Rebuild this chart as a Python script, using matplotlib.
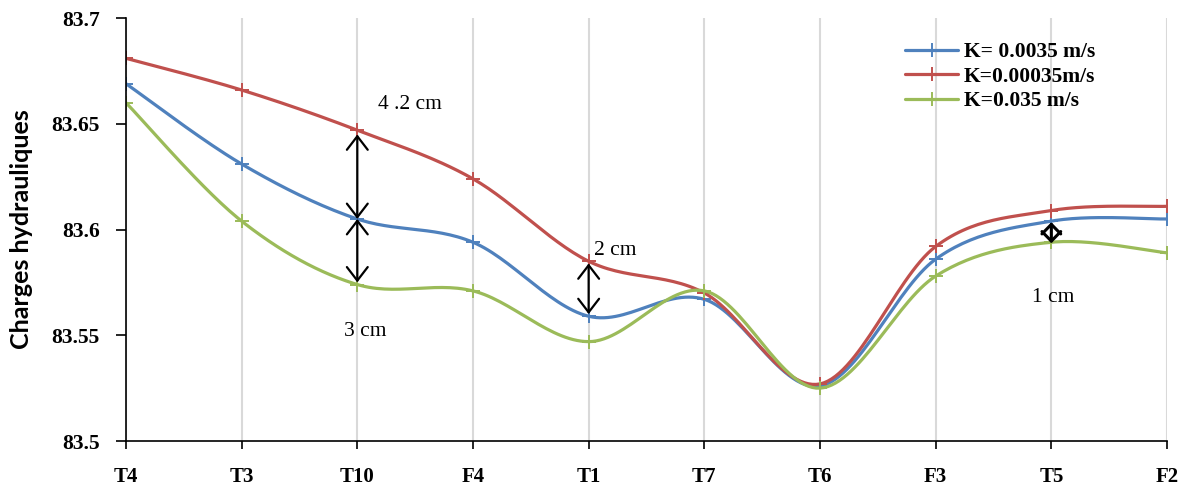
import numpy as np
import matplotlib
import matplotlib.pyplot as plt
from matplotlib.ticker import FuncFormatter

matplotlib.use('agg')

# data
stations = ['T4', 'T3', 'T10', 'F4', 'T1', 'T7', 'T6', 'F3', 'T5', 'F2']
k_0035 = [83.669, 83.631, 83.605, 83.594, 83.559, 83.567, 83.526, 83.586, 83.604, 83.605]
k_00035 = [83.681, 83.666, 83.647, 83.624, 83.585, 83.570, 83.527, 83.592, 83.609, 83.611]
k_035 = [83.660, 83.604, 83.574, 83.571, 83.547, 83.571, 83.525, 83.578, 83.594, 83.589]
labels = ['K= 0.0035 m/s', 'K=0.00035m/s', 'K=0.035 m/s']
colors = ['#4F81BD', '#C0504D', '#9BBB59']

SERIF = 'Liberation Serif'


def smooth(x, y, n=30):
    # excel-like smoothed line: cubic bezier through every point
    x = np.asarray(x, float)
    y = np.asarray(y, float)
    px = np.concatenate([[x[0]], x, [x[-1]]])
    py = np.concatenate([[y[0]], y, [y[-1]]])
    xs, ys, idx = [], [], []
    t = np.linspace(0, 1, n, endpoint=False)
    for i in range(len(x) - 1):
        p0 = np.array([px[i + 1], py[i + 1]])
        p3 = np.array([px[i + 2], py[i + 2]])
        c1 = p0 + (np.array([px[i + 2], py[i + 2]]) - np.array([px[i], py[i]])) / 6
        c2 = p3 - (np.array([px[i + 3], py[i + 3]]) - np.array([px[i + 1], py[i + 1]])) / 6
        idx.append(len(xs))
        b = ((1 - t) ** 3)[:, None] * p0 + (3 * (1 - t) ** 2 * t)[:, None] * c1 \
            + (3 * (1 - t) * t ** 2)[:, None] * c2 + (t ** 3)[:, None] * p3
        xs.extend(b[:, 0])
        ys.extend(b[:, 1])
    idx.append(len(xs))
    xs.append(x[-1])
    ys.append(y[-1])
    return np.array(xs), np.array(ys), idx


fig = plt.figure(figsize=(11.86, 4.9), dpi=100)
ax = fig.add_axes([0.1062, 0.1, 0.8778, 0.863])

xpos = np.arange(len(stations))
for vals, lab, col in zip([k_0035, k_00035, k_035], labels, colors):
    sx, sy, idx = smooth(xpos, vals)
    ax.plot(sx, sy, color=col, lw=2.3, marker='+', markevery=idx,
            markersize=10, mew=1.4, label=lab, solid_capstyle='round')

ax.set_xlim(0, len(stations) - 1)
ax.set_ylim(83.5, 83.7)
ax.set_yticks([83.5, 83.55, 83.6, 83.65, 83.7])
ax.yaxis.set_major_formatter(FuncFormatter(lambda v, p: ('%.2f' % v).rstrip('0').rstrip('.')))
ax.set_xticks(xpos)
ax.set_xticklabels(stations)
for lbl in ax.get_xticklabels():
    lbl.set_fontfamily(SERIF)
    lbl.set_fontweight('bold')
    lbl.set_fontsize(15)
for lbl in ax.get_yticklabels():
    lbl.set_fontfamily(SERIF)
    lbl.set_fontweight('bold')
    lbl.set_fontsize(15.5)
ax.tick_params(axis='x', direction='out', length=6, width=1.2, pad=13)
ax.tick_params(axis='y', direction='out', length=7, width=1.2, pad=12)
ax.grid(True, axis='x', color='#D9D9D9', lw=1.5)
ax.set_axisbelow(True)
for s in ['top', 'right']:
    ax.spines[s].set_visible(False)
for s in ['left', 'bottom']:
    ax.spines[s].set_linewidth(1.2)
ax.set_ylabel('Charges hydrauliques', fontfamily='Lato', fontweight='bold', fontsize=18)
ax.yaxis.set_label_coords(-0.0893, 0.5)

# difference arrows
arr = dict(arrowstyle='<->,head_length=0.65,head_width=0.5', color='black', lw=1.6,
           shrinkA=0, shrinkB=0, mutation_scale=15)
ax.annotate('', xy=(2, 83.645), xytext=(2, 83.605), arrowprops=arr)
ax.annotate('', xy=(2, 83.605), xytext=(2, 83.575), arrowprops=arr)
ax.annotate('', xy=(4, 83.584), xytext=(4, 83.560), arrowprops=arr)
ax.annotate('', xy=(8, 83.6035), xytext=(8, 83.5935),
            arrowprops=dict(arr, arrowstyle='<->,head_length=0.46,head_width=0.45', lw=2.2, mutation_scale=15))

tf = dict(fontfamily=SERIF, fontsize=15.5)
ax.text(2.18, 83.659, '4 .2 cm', ha='left', va='center', **tf)
ax.text(2.07, 83.552, '3 cm', ha='center', va='center', **tf)
ax.text(4.05, 83.590, '2 cm', ha='left', va='center', **tf)
ax.text(8.02, 83.568, '1 cm', ha='center', va='center', **tf)

ax.legend(loc='upper left', bbox_to_anchor=(0.748, 0.943), frameon=False,
          prop={'family': SERIF, 'weight': 'bold', 'size': 15.5},
          handlelength=2.5, handletextpad=0.25, labelspacing=0.2,
          borderpad=0, borderaxespad=0, numpoints=1)

plt.savefig('out.png', dpi=100)
